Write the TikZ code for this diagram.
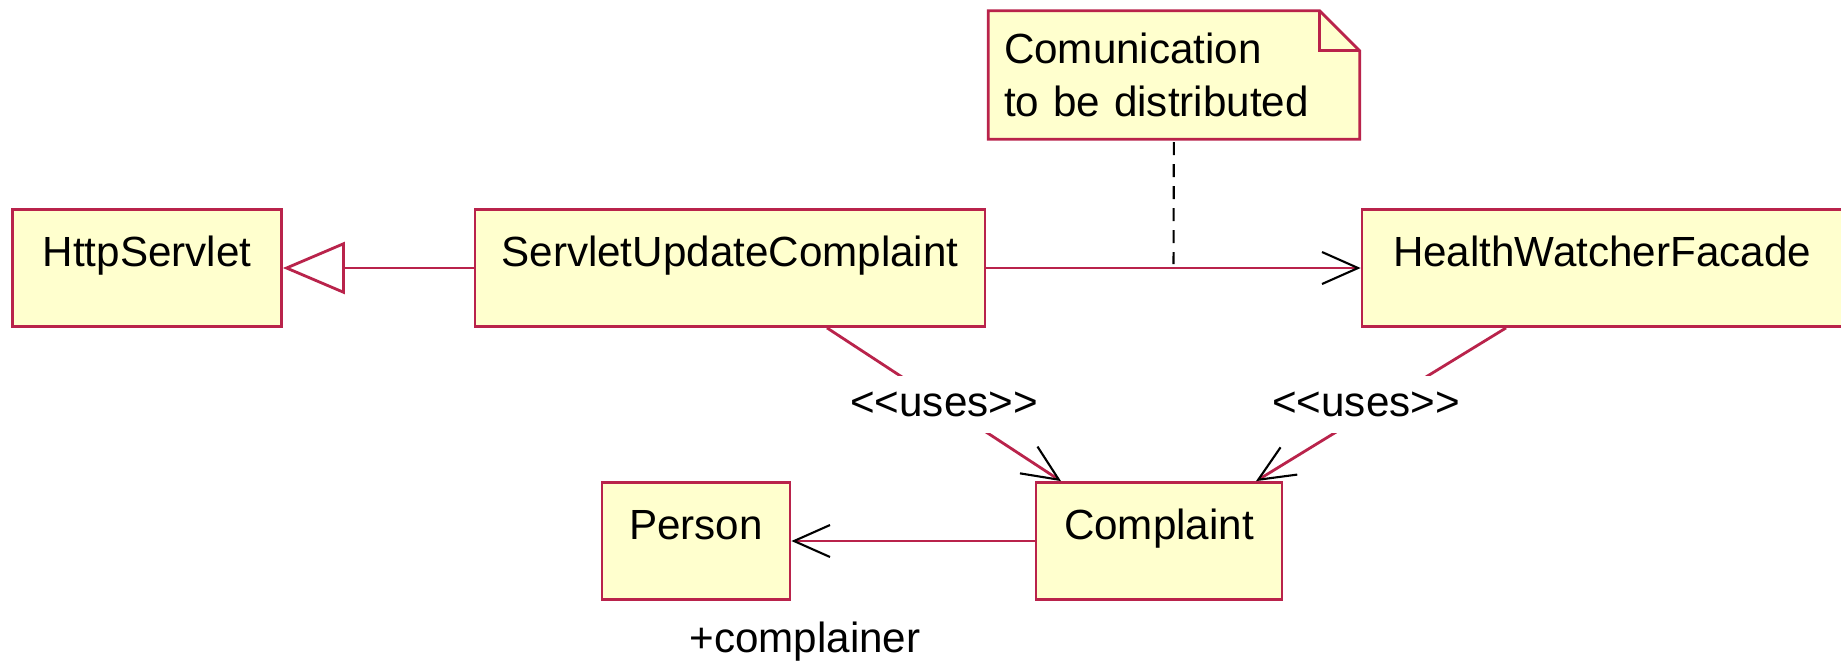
\documentclass[tikz,border=0pt]{standalone}
\usepackage{fontspec}
\newfontfamily\umlfont{Liberation Sans}
\usetikzlibrary{backgrounds, positioning, calc, arrows.meta}
\definecolor{umlline}{RGB}{185,35,75}
\definecolor{umlfill}{RGB}{255,255,206}

\begin{document}
\begin{tikzpicture}
	[x=0.1mm, y=-0.1mm,
	 font=\umlfont\fontsize{12pt}{15pt}\selectfont,
	 classbox/.style={draw=umlline, fill=umlfill, line width=0.8pt, inner sep=0pt,
	                  text height=5.7mm, text depth=6mm, minimum height=11.7mm},
	 notebox/.style={inner xsep=1.5mm, text width=34mm, align=left,
	                 minimum width=37mm, minimum height=12.7mm},
	 assoc/.style={draw=umlline, line width=0.8pt},
	 opentip/.style={-{Straight Barb[length=3.6mm, width=3.2mm, color=black, line width=0.6pt]}},
	 gentip/.style={-{Triangle[length=6.2mm, width=5.2mm, fill=white, line width=0.8pt]}},
	 notelink/.style={draw=black, line width=0.6pt, dash pattern=on 1.3mm off 0.9mm,
	                  shorten <=0.3mm, shorten >=0.4mm},
	 useslabel/.style={fill=white, inner sep=1.6mm}]
	\useasboundingbox (0,0) rectangle (1841,666);
	\node[classbox, minimum width=26.9mm] (http) at (147,268) {HttpServlet};
	\node[classbox, minimum width=51mm] (suc) at (730,268) {ServletUpdateComplaint};
	\node[classbox, minimum width=48mm] (hwf) at (1602,268) {HealthWatcherFacade};
	\node[classbox, minimum width=24.6mm] (cmp) at (1159,541) {Complaint};
	\node[classbox, minimum width=18.8mm] (person) at (696,541) {Person};
	\node[notebox] (note) at (1174,75) {Comunication\\to be distributed};
	\node (role) at (805,642) {+complainer};
	\begin{scope}[on background layer]
		\draw[umlline, fill=umlfill, line width=0.8pt]
		(note.south west) -- (note.north west) -- ([xshift=-4mm]note.north east)
		-- ([yshift=-4mm]note.north east) -- (note.south east) -- cycle;
	\end{scope}
	\draw[umlline, line width=0.8pt]
	([xshift=-4mm]note.north east) |- ([yshift=-4mm]note.north east);
	\draw[assoc, gentip] (suc) -- (http);
	\draw[assoc, opentip] (suc) -- coordinate (comm) (hwf);
	\draw[notelink] (note) -- (comm);
	\draw[assoc, opentip] ([xshift=9.7mm]suc.south) -- node[useslabel] (uses1) {<<uses>>} ([xshift=-9.8mm]cmp.north);
	\draw[assoc, opentip] ([xshift=-9.6mm]hwf.south) -- node[useslabel, xshift=-1.5mm] (uses2) {<<uses>>} ([xshift=9.7mm]cmp.north);
	\draw[assoc, opentip] (cmp) -- (person);
\end{tikzpicture}
\end{document}
